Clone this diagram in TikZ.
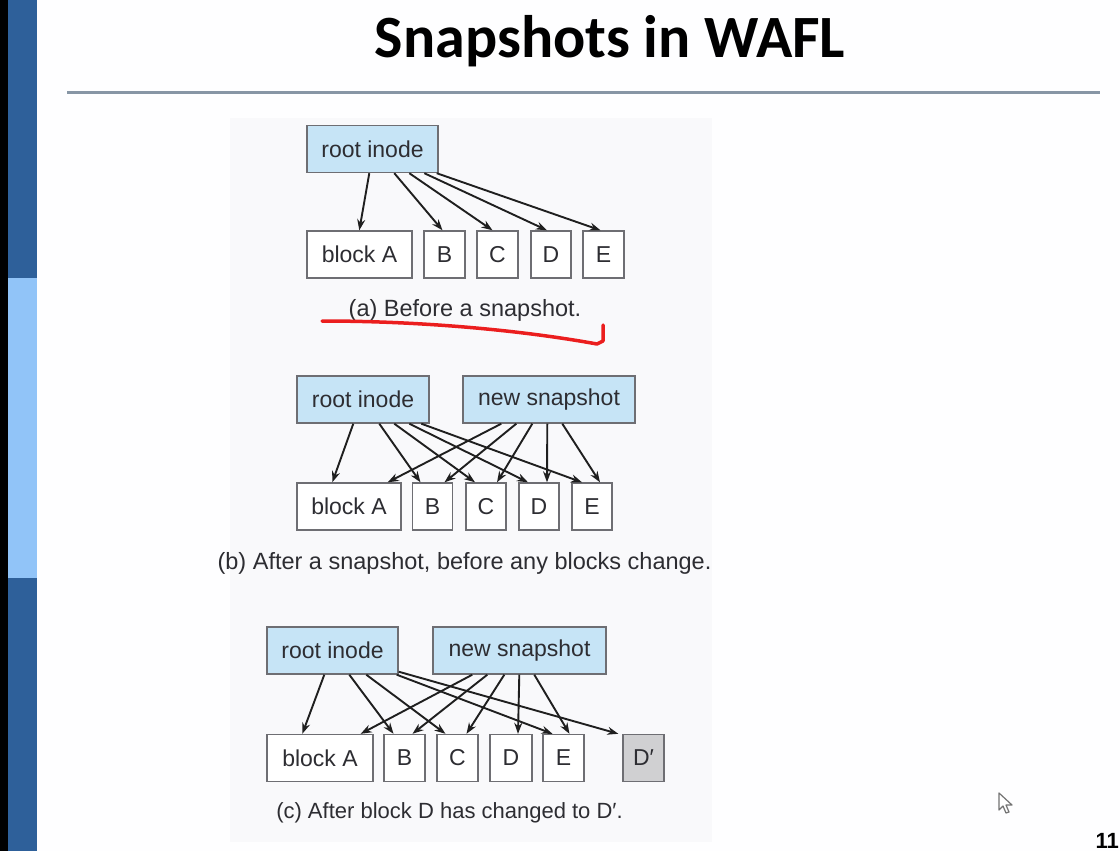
\documentclass[tikz,border=0pt]{standalone}
\usepackage{fontspec}
\setmainfont{Liberation Sans}
\newfontfamily\titlefont{Carlito}
\usetikzlibrary{arrows.meta,calc}
\definecolor{slidebg}{RGB}{254,254,255}
\definecolor{panelbg}{RGB}{249,249,251}
\definecolor{darkbar}{RGB}{46,96,154}
\definecolor{lightbar}{RGB}{145,196,248}
\definecolor{rulecol}{RGB}{135,150,165}
\definecolor{boxfill}{RGB}{198,228,246}
\definecolor{boxline}{RGB}{110,110,115}
\definecolor{txt}{RGB}{45,45,50}
\definecolor{dprime}{RGB}{208,208,210}
\definecolor{penred}{RGB}{235,30,30}
\newcommand{\dfs}{\fontsize{23}{27}\selectfont}
\newcommand{\cfs}{\fontsize{23.5}{27}\selectfont}
\tikzset{
  blockbox/.style={draw=boxline, line width=1.4pt, fill=white, minimum height=47pt, inner sep=0pt, font=\dfs, text=txt},
  bluebox/.style={blockbox, fill=boxfill},
  ptr/.style={line width=1.9pt, draw=black!88, -{Stealth[length=11pt,width=8pt]}},
  caption/.style={font=\cfs, text=txt, inner sep=0pt}
}
\begin{document}
\begin{tikzpicture}[x=1pt,y=-1pt]
\useasboundingbox (0,0) rectangle (1120,851);
\fill[slidebg] (0,0) rectangle (1120,851);
\fill[panelbg] (230,118) rectangle (712,842);
\fill[black] (0,0) rectangle (8,851);
\fill[darkbar] (8,0) rectangle (37,851);
\fill[lightbar] (8,278) rectangle (37,578);
\draw[rulecol, line width=3pt] (67,93) -- (1100,93);
\node[font=\titlefont\bfseries\fontsize{60}{70}\selectfont, anchor=base, inner sep=0pt] (title) at (610,58) {Snapshots in WAFL};

% ---------- (a) ----------
\node[bluebox, minimum width=131pt] (rootA) at (372.5,149) {root inode};
\node[blockbox, minimum width=105pt] (aA) at (359.5,254.5) {block A};
\node[blockbox, minimum width=41pt] (aB) at (444.5,254.5) {B};
\node[blockbox, minimum width=41pt] (aC) at (497.5,254.5) {C};
\node[blockbox, minimum width=40pt] (aD) at (551,254.5) {D};
\node[blockbox, minimum width=41pt] (aE) at (603.5,254.5) {E};
\draw[ptr] ($(rootA.south west)+(63,0)$) -- ($(aA.north west)+(53,0)$);
\draw[ptr] ($(rootA.south west)+(88,0)$) -- ($(aB.north)+(-2,0)$);
\draw[ptr] ($(rootA.south west)+(103,0)$) -- ($(aC.north)+(-5,0)$);
\draw[ptr] ($(rootA.south west)+(118,0)$) -- ($(aD.north)+(-4,0)$);
\draw[ptr] ($(rootA.south east)+(-2,0)$) -- ($(aE.north)+(-3,0)$);
\node[caption] (capA) at (465,310) {(a) Before a snapshot.};
\draw[penred, line width=3.5pt, line cap=round, line join=round]
  (322,321) .. controls (420,321) and (520,330) .. (597,344) -- (603,341) -- (603,325);

% ---------- (b) ----------
\node[bluebox, minimum width=132pt] (rootB) at (363,399.5) {root inode};
\node[bluebox, minimum width=172pt] (snapB) at (549,399.5) {new snapshot};
\node[blockbox, minimum width=104pt] (bA) at (349,506.5) {block A};
\node[blockbox, minimum width=40pt] (bB) at (432.5,506.5) {B};
\node[blockbox, minimum width=40pt] (bC) at (486,506.5) {C};
\node[blockbox, minimum width=40pt] (bD) at (539,506.5) {D};
\node[blockbox, minimum width=40pt] (bE) at (592,506.5) {E};
\draw[ptr] ($(rootB.south west)+(57,0)$) -- ($(bA.north west)+(36,0)$);
\draw[ptr] ($(rootB.south west)+(83,0)$) -- ($(bB.north)+(-12,0)$);
\draw[ptr] ($(rootB.south west)+(98,0)$) -- ($(bC.north)+(-11,0)$);
\draw[ptr] ($(rootB.south west)+(113,0)$) -- ($(bD.north)+(-11,0)$);
\draw[ptr] ($(rootB.south west)+(125,0)$) -- ($(bE.north)+(-10,0)$);
\draw[ptr] ($(snapB.south west)+(39,0)$) -- ($(bA.north east)+(-14,0)$);
\draw[ptr] ($(snapB.south west)+(54,0)$) -- ($(bB.north)+(12,0)$);
\draw[ptr] ($(snapB.south west)+(70,0)$) -- ($(bC.north)+(11,0)$);
\draw[ptr] ($(snapB.south west)+(85,0)$) -- ($(bD.north)+(8,0)$);
\draw[ptr] ($(snapB.south west)+(100,0)$) -- ($(bE.north)+(8,0)$);
\node[caption] (capB) at (464.5,563) {(b) After a snapshot, before any blocks change.};

% ---------- (c) ----------
\node[bluebox, minimum width=131pt] (rootC) at (332.5,650.5) {root inode};
\node[bluebox, minimum width=173pt] (snapC) at (519.5,650.5) {new snapshot};
\node[blockbox, minimum width=106pt] (cA) at (320,758) {block A};
\node[blockbox, minimum width=41pt] (cB) at (404.5,758) {B};
\node[blockbox, minimum width=41pt] (cC) at (457.5,758) {C};
\node[blockbox, minimum width=42pt] (cD) at (511,758) {D};
\node[blockbox, minimum width=41pt] (cE) at (563.5,758) {E};
\node[blockbox, minimum width=41pt, fill=dprime] (cDp) at (643.5,758) {D′};
\draw[ptr] ($(rootC.south west)+(58,0)$) -- ($(cA.north west)+(36,0)$);
\draw[ptr] ($(rootC.south west)+(83,0)$) -- ($(cB.north)+(-11,0)$);
\draw[ptr] ($(rootC.south west)+(100,0)$) -- ($(cC.north)+(-12,0)$);
\draw[ptr] ($(rootC.south east)+(-2,0)$) -- ($(cE.north)+(-11,0)$);
\draw[ptr] ($(rootC.south east)+(0,-3)$) -- ($(cDp.north west)+(-4,0)$);
\draw[ptr] ($(snapC.south west)+(40,0)$) -- ($(cA.north east)+(-13,0)$);
\draw[ptr] ($(snapC.south west)+(55,0)$) -- ($(cB.north)+(8,0)$);
\draw[ptr] ($(snapC.south west)+(72,0)$) -- ($(cC.north)+(9,0)$);
\draw[ptr] ($(snapC.south west)+(87,0)$) -- ($(cD.north)+(7,0)$);
\draw[ptr] ($(snapC.south west)+(102,0)$) -- ($(cE.north)+(6,0)$);
\node[caption, font=\fontsize{22}{26}\selectfont] (capC) at (449.5,813) {(c) After block D has changed to D′.};

% ---------- slide extras ----------
\draw[black!55, line width=1.2pt, fill=white, line join=round]
  (999,793) -- (999,810) -- (1003,806) -- (1006,813) -- (1009,812) -- (1006,805) -- (1012,805) -- cycle;
\node[font=\bfseries\fontsize{22}{26}\selectfont, anchor=north east, inner sep=0pt] (pnum) at (1119,833) {11};
\end{tikzpicture}
\end{document}
